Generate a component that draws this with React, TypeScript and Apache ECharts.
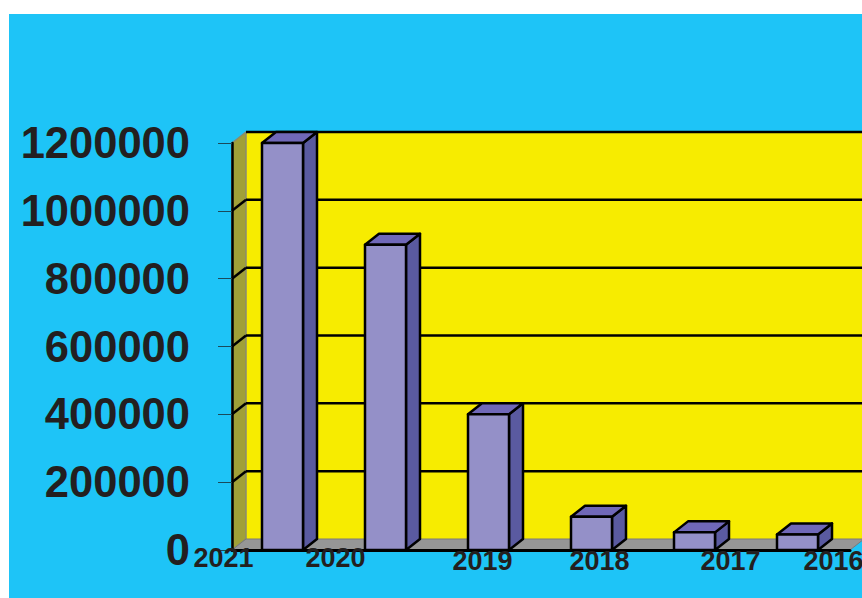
import React, { useEffect, useRef } from "react";
import * as echarts from "echarts";

const years = ["2021", "2020", "2019", "2018", "2017", "2016"];
const values = [1200000, 900000, 400000, 98000, 52000, 46000];
const gridValues = [0, 200000, 400000, 600000, 800000, 1000000, 1200000];

// layout tuning, separate from the data
const labelShiftX = [-60, -51, -7, 7, 35, 35];
const labelShiftY = [0, 0, 3, 3, 3, 3];
const DX = 14;
const DY = -11;
const BAR_W = 41;

const BLUE = "#1ec4f7";
const YELLOW = "#f7ec00";
const WALL = "#a0a038";
const FLOOR = "#969696";
const FRONT = "#9490c8";
const SIDE = "#5a5aa0";
const TOP = "#7068b8";
const INK = "#231f20";

function poly(points: number[][], fill: string, stroke: string, lineWidth: number) {
  return { type: "polygon", shape: { points }, style: { fill, stroke, lineWidth, lineJoin: "round" } };
}
function line(x1: number, y1: number, x2: number, y2: number, stroke: string, lineWidth: number) {
  return { type: "line", shape: { x1, y1, x2, y2 }, style: { stroke, lineWidth } };
}

export default function App() {
  const ref = useRef<HTMLDivElement>(null);
  useEffect(() => {
    const chart = echarts.init(ref.current!, undefined, { renderer: "svg" });
    chart.setOption({
      animation: false,
      backgroundColor: BLUE,
      grid: { left: 223, right: 12, top: 129, bottom: 48, containLabel: false, outerBoundsMode: "none" },
      xAxis: {
        type: "category",
        z: 5,
        data: years.map((y, i) => {
          const s = labelShiftX[i];
          return {
            value: y,
            textStyle: {
              padding: [labelShiftY[i], s < 0 ? -s * 2 : 0, 0, s > 0 ? s * 2 : 0],
            },
          };
        }),
        axisLine: { lineStyle: { color: "#000", width: 3 } },
        axisTick: { show: false },
        axisLabel: {
          interval: 0,
          margin: -6,
          color: INK,
          fontFamily: "Liberation Sans",
          fontWeight: "bold",
          fontSize: 27,
        },
      },
      yAxis: {
        type: "value",
        z: 5,
        min: 0,
        max: 1200000,
        interval: 200000,
        splitLine: { show: false },
        axisLine: { show: true, lineStyle: { color: "#000", width: 2.5 } },
        axisTick: { show: true, length: 14, lineStyle: { color: "#1a4a5a", width: 1 } },
        axisLabel: {
          margin: 42,
          color: INK,
          fontFamily: "Liberation Sans",
          fontWeight: "bold",
          fontSize: 43.5,
          padding: [0, 0, 2, 0],
          formatter: (v: number) => String(v),
        },
      },
      series: [
        {
          type: "custom",
          silent: true,
          z: 1,
          clip: false,
          data: [0],
          renderItem: (_p: any, api: any) => {
            const band = api.size([1, 0])[0];
            const [xc0, y0] = api.coord([0, 0]);
            const x0 = xc0 - band / 2;
            const x1 = x0 + band * years.length;
            const yTop = api.coord([0, 1200000])[1];
            const children: any[] = [
              poly([[x0 + DX, yTop + DY], [x1 + DX, yTop + DY], [x1 + DX, y0 + DY], [x0 + DX, y0 + DY]], YELLOW, "none", 0),
              poly([[x0, yTop], [x0 + DX, yTop + DY], [x0 + DX, y0 + DY], [x0, y0]], WALL, "#8a8a70", 1.5),
              poly([[x0, y0], [x0 + DX, y0 + DY], [x1 + DX, y0 + DY], [x1, y0]], FLOOR, "#7a7a7a", 1),
            ];
            gridValues.slice(1).forEach((v) => {
              const y = api.coord([0, v])[1];
              children.push(line(x0 + DX, y + DY, x1 + DX, y + DY, "#000", 2.5));
              if (v < 1200000) children.push(line(x0, y, x0 + DX, y + DY, "#000", 2.5));
            });
            return { type: "group", children };
          },
        },
        {
          type: "custom",
          silent: true,
          z: 2,
          clip: false,
          data: values.map((v, i) => [i, v]),
          encode: { x: 0, y: 1 },
          renderItem: (_p: any, api: any) => {
            const [xc, yt] = api.coord([api.value(0), api.value(1)]);
            const yb = api.coord([api.value(0), 0])[1];
            const l = xc - BAR_W / 2 - 1;
            const r = l + BAR_W;
            return {
              type: "group",
              children: [
                poly([[r, yt], [r + DX, yt + DY], [r + DX, yb + DY], [r, yb]], SIDE, "#000", 2.5),
                poly([[l, yt], [l + DX, yt + DY], [r + DX, yt + DY], [r, yt]], TOP, "#000", 2.5),
                poly([[l, yt], [r, yt], [r, yb], [l, yb]], FRONT, "#000", 2.5),
              ],
            };
          },
        },
      ],
    });
    return () => chart.dispose();
  }, []);
  return (
    <div
      ref={ref}
      style={{ position: "absolute", left: 9, top: 14, width: 853, height: 584 }}
    />
  );
}
